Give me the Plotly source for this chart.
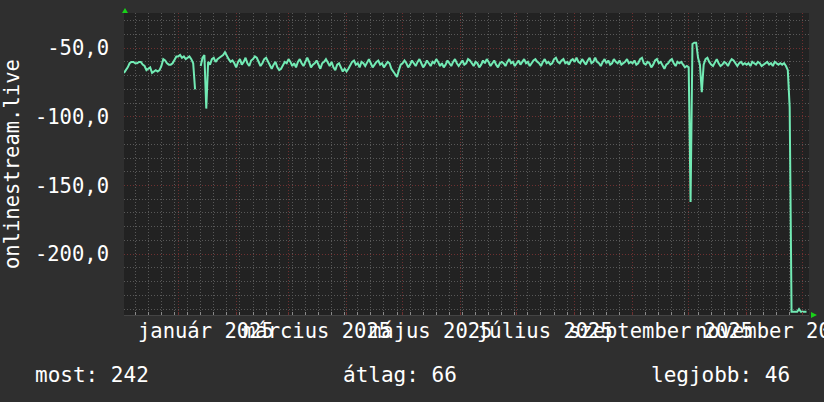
import pandas as pd
import plotly.graph_objects as go

# ---------------- data (daily values, 2024-12-03 .. 2025-12-03) ----------------
dec24 = [-68,-66,-64,-61,-60,-60,-61,-61,-60,-60,-62,-63,-66,-65,-64,-68,-67,-66,-67,-66,-63,-58,-59,-61,-62,-62,-61,-58,-56]
jan25 = [-56,-55,-57,-56,-58,-57,-56,-58,-61,-80,None,None,-63,-57,-55,-94,-60,-62,-58,-57,-60,-58,-57,-56,-55,-53,-56,-58,-60,-59,-61]
feb25 = [-64,-60,-58,-62,-60,-57,-61,-63,-59,-58,-56,-57,-60,-63,-61,-58,-57,-60,-63,-65,-62,-60,-64,-66,-65,-62,-60,-61]
mar25 = [-58,-60,-63,-61,-64,-60,-58,-61,-63,-60,-57,-60,-64,-62,-61,-59,-62,-65,-61,-60,-58,-61,-63,-60,-64,-66,-62,-61,-64,-67,-65]
apr25 = [-67,-65,-62,-60,-59,-62,-61,-64,-60,-61,-63,-60,-58,-61,-64,-62,-60,-59,-62,-61,-64,-62,-60,-61,-65,-67,-69,-71,-66,-62]
may25 = [-61,-59,-61,-64,-62,-59,-61,-63,-60,-58,-61,-64,-62,-59,-61,-63,-60,-61,-58,-60,-63,-61,-64,-62,-59,-61,-63,-60,-58,-61,-63]
jun25 = [-61,-59,-62,-61,-58,-59,-61,-63,-60,-61,-64,-62,-59,-61,-58,-60,-63,-61,-59,-62,-64,-61,-60,-61,-63,-60,-58,-61,-60,-63]
jul25 = [-61,-59,-62,-60,-58,-61,-60,-63,-61,-59,-58,-60,-61,-63,-60,-58,-61,-60,-62,-61,-58,-57,-60,-61,-59,-58,-61,-60,-62,-59,-58]
aug25 = [-60,-57,-60,-61,-58,-60,-62,-59,-57,-61,-60,-57,-60,-61,-63,-60,-58,-61,-59,-62,-61,-58,-60,-61,-59,-62,-61,-60,-58,-61,-60]
sep25 = [-61,-59,-62,-61,-58,-57,-61,-62,-60,-61,-64,-62,-59,-58,-61,-60,-63,-65,-62,-61,-59,-58,-61,-63,-60,-61,-60,-62,-64,-63]
oct25 = [-64,-162,-47,-46,-46,-57,-62,-82,-62,-58,-57,-60,-62,-63,-60,-58,-61,-63,-62,-60,-61,-63,-60,-58,-59,-61,-63,-61,-60,-62,-61]
nov25 = [-62,-61,-63,-60,-61,-62,-60,-61,-63,-62,-61,-60,-62,-61,-63,-60,-61,-62,-61,-62,-61,-63,-66,-93,-242,-242,-242,-242,-240,-242]
dec25 = [-242,-242,-242]

values = dec24 + jan25 + feb25 + mar25 + apr25 + may25 + jun25 + jul25 + aug25 + sep25 + oct25 + nov25 + dec25
dates = pd.date_range("2024-12-03", periods=len(values), freq="D")

y_tick_vals = [-50, -100, -150, -200]
y_tick_text = ["-50,0", "-100,0", "-150,0", "-200,0"]

x_label_dates = ["2025-01-16", "2025-03-16", "2025-05-16", "2025-07-16", "2025-09-16", "2025-11-16"]
x_label_text = ["január 2025", "március 2025", "május 2025", "július 2025", "szeptember 2025", "november 2025"]

series_name = "onlinestream.live"
legend_items = ["most: 242", "átlag: 66", "legjobb: 46"]

# ---------------- layout constants ----------------
W, H = 824, 402
L, R, T, B = 124, 15, 13, 87
PW, PH = W - L - R, H - T - B
FONT = "DejaVu Sans Mono"
BG = "#2f2f2f"
PLOT_BG = "#222222"
MINOR = "#585858"
MAJOR = "#6e3030"
LINE = "#72eab4"
ARROW = "#19d119"


def px(xp):
    return (xp - L) / PW


def py(yp):
    return (H - B - yp) / PH


fig = go.Figure()
fig.add_trace(go.Scatter(x=dates, y=values, mode="lines", connectgaps=False,
                         line=dict(color=LINE, width=2), hoverinfo="skip", showlegend=False))

fig.update_layout(
    width=W, height=H,
    margin=dict(l=L, r=R, t=T, b=B, pad=0),
    paper_bgcolor=BG, plot_bgcolor=PLOT_BG,
    font=dict(family=FONT, size=20, color="#ffffff"),
    showlegend=False,
)

fig.update_xaxes(
    type="date",
    range=["2024-12-03", "2025-12-04 08:00"],
    showticklabels=False,
    tick0="2025-01-01", dtick="M1",
    showgrid=True, gridcolor=MAJOR, griddash="1px,2px", gridwidth=1,
    ticks="inside", ticklen=3, tickcolor=MAJOR,
    minor=dict(tick0="2024-12-02", dtick=7 * 86400000, showgrid=True,
               gridcolor=MINOR, griddash="1px,2px", gridwidth=1,
               ticks="inside", ticklen=3, tickcolor="#8a8a8a"),
    showline=True, linecolor="#444444", linewidth=1,
    zeroline=False, fixedrange=True,
)

fig.update_yaxes(
    range=[-244.3, -24.4],
    tickvals=y_tick_vals, ticktext=y_tick_text,
    tickfont=dict(family=FONT, size=20.5, color="#ffffff"),
    showgrid=True, gridcolor=MAJOR, griddash="1px,2px", gridwidth=1,
    ticks="", ticklabelstandoff=14,
    minor=dict(dtick=10, showgrid=True, gridcolor=MINOR, griddash="1px,2px", gridwidth=1),
    showline=False, zeroline=False, fixedrange=True,
)

annotations = []
for d, t in zip(x_label_dates, x_label_text):
    annotations.append(dict(x=d, xref="x", y=py(331), yref="paper", text=t, showarrow=False,
                            xanchor="center", yanchor="middle",
                            font=dict(family=FONT, size=20.5, color="#ffffff")))

annotations.append(dict(x=px(12), xref="paper", y=0.5, yref="paper", text=series_name,
                        textangle=-90, showarrow=False, xanchor="center", yanchor="middle",
                        font=dict(family=FONT, size=20.5, color="#ffffff")))

annotations.append(dict(x=px(33), xref="paper", y=py(375), yref="paper", text=legend_items[0],
                        showarrow=False, xanchor="left", yanchor="middle",
                        font=dict(family=FONT, size=21, color="#ffffff")))
annotations.append(dict(x=px(341), xref="paper", y=py(375), yref="paper", text=legend_items[1],
                        showarrow=False, xanchor="left", yanchor="middle",
                        font=dict(family=FONT, size=21, color="#ffffff")))
annotations.append(dict(x=px(792), xref="paper", y=py(375), yref="paper", text=legend_items[2],
                        showarrow=False, xanchor="right", yanchor="middle",
                        font=dict(family=FONT, size=21, color="#ffffff")))
fig.update_layout(annotations=annotations)

# axis arrows (decoration)
up = f"M {px(122)} {py(13)} L {px(128)} {py(13)} L {px(125)} {py(8)} Z"
right = f"M {px(811)} {py(312)} L {px(811)} {py(318)} L {px(817)} {py(315)} Z"
fig.update_layout(shapes=[
    dict(type="path", path=up, xref="paper", yref="paper", fillcolor=ARROW, line=dict(width=0)),
    dict(type="path", path=right, xref="paper", yref="paper", fillcolor=ARROW, line=dict(width=0)),
])

fig.write_html("out.html", config={"displayModeBar": False},
               post_script="document.body.style.margin='0';document.body.style.overflow='hidden';")
